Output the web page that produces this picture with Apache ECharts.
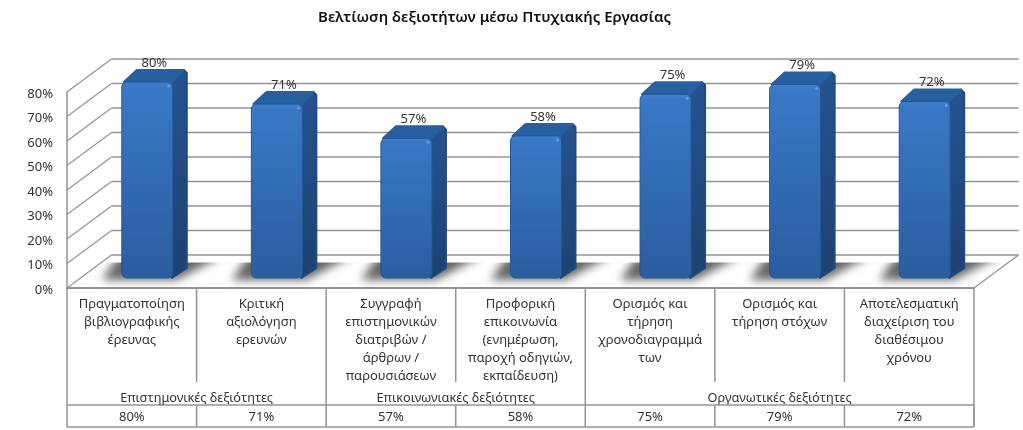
<!DOCTYPE html>
<html><head><meta charset="utf-8">
<style>html,body{margin:0;padding:0;background:#fff}#c{width:1023px;height:430px}</style>
<script src="https://cdn.jsdelivr.net/npm/echarts@6/dist/echarts.min.js"></script>
</head><body><div id="c"></div>
<script>
const titleText = 'Βελτίωση δεξιοτήτων μέσω Πτυχιακής Εργασίας';
const categories = [
 'Πραγματοποίηση\nβιβλιογραφικής\nέρευνας',
 'Κριτική\nαξιολόγηση\nερευνών',
 'Συγγραφή\nεπιστημονικών\nδιατριβών /\nάρθρων /\nπαρουσιάσεων',
 'Προφορική\nεπικοινωνία\n(ενημέρωση,\nπαροχή οδηγιών,\nεκπαίδευση)',
 'Ορισμός και\nτήρηση\nχρονοδιαγραμμά\nτων',
 'Ορισμός και\nτήρηση στόχων',
 'Αποτελεσματική\nδιαχείριση του\nδιαθέσιμου\nχρόνου'
];
const values = [80, 71, 57, 58, 75, 79, 72];
const ticks = [0, 10, 20, 30, 40, 50, 60, 70, 80];
const groupNames = ['Επιστημονικές δεξιότητες', 'Επικοινωνιακές δεξιότητες', 'Οργανωτικές δεξιότητες'];
const groupSpans = [2, 2, 3];

const FONT = '"Noto Sans"', TXT = '#333333', LINE = '#949494';
const DX = 44.5, DY = -33;           // wall depth
const BX = 15.5, BY = -10, BW = 51;  // bar offset in the floor, width
const SX = 14, SY = -12;             // bar depth
const TBL_GROUP = 382, TBL_SPLIT = 405, TBL_BOTTOM = 427;
const OFF = 3000;                    // draws only the blurred shadow of a shape

function lineShape(x1, y1, x2, y2, w, color) {
  return {type: 'line', shape: {x1, y1, x2, y2}, style: {stroke: color || LINE, lineWidth: w || 1.5}};
}
function wallItem(params, api) {
  const v = api.value(1), p = api.coord([0, v]), bw = api.size([1, 0])[0];
  const x0 = p[0] - bw / 2, xr = x0 + bw * categories.length;
  const kids = [
    lineShape(x0, p[1], x0 + DX, p[1] + DY, 1.2),
    lineShape(x0 + DX, p[1] + DY, xr + DX, p[1] + DY, 1.7)
  ];
  if (v === 0) kids.push(lineShape(xr, p[1], xr + DX, p[1] + DY, 1.2));
  return {type: 'group', children: kids};
}
function softShape(points, color, blur) {
  return {
    type: 'polygon',
    shape: {points: points.map(q => [q[0] - OFF, q[1]])},
    style: {fill: '#000', shadowColor: color, shadowBlur: blur, shadowOffsetX: OFF, shadowOffsetY: 0}
  };
}
function shadowItem(params, api) {
  const i = api.value(0);
  const b = api.coord([i, 0]);
  const cx = b[0] + BX, l = cx - BW / 2, r = cx + BW / 2, f = b[1] + BY;
  const shadow = softShape([[l - 20, f + 2], [r + 4, f + 2], [r + 56, f - 26], [l, f - 26]], 'rgba(100,100,100,1)', 10);
  const mask = {type: 'rect', shape: {x: l - 35, y: f - 40, width: BW + 110, height: 24.5}, style: {fill: '#fff'}};
  return {type: 'group', children: [shadow, mask]};
}
function barItem(params, api) {
  const i = api.value(0), v = api.value(1);
  const c = api.coord([i, v]), b = api.coord([i, 0]);
  const cx = c[0] + BX, l = cx - BW / 2, r = cx + BW / 2, t = c[1] + BY, f = b[1] + BY;
  const side = {
    type: 'polygon',
    shape: {points: [[r - 3, t], [r + SX - 3, t + SY], [r + SX, t + SY + 3], [r + SX, f + SY + 2], [r - 1, f]]},
    style: {fill: {type: 'linear', x: 0, y: 0, x2: 0, y2: 1, colorStops: [
      {offset: 0, color: '#255390'}, {offset: 1, color: '#1c4270'}]}, stroke: '#214a80', lineWidth: 2, lineJoin: 'round'}
  };
  const top = {
    type: 'polygon',
    shape: {points: [[l + 2, t], [l + SX + 1, t + SY], [r + SX - 3, t + SY], [r - 2, t + 1]]},
    style: {fill: '#28609f', stroke: '#28609f', lineWidth: 2, lineJoin: 'round'}
  };
  const front = {
    type: 'rect',
    shape: {x: l, y: t, width: BW, height: f - t, r: 5},
    style: {fill: {type: 'linear', x: 0, y: 0, x2: 0, y2: 1, colorStops: [
      {offset: 0, color: '#3d80d2'}, {offset: 0.03, color: '#3978c6'}, {offset: 1, color: '#2a5d9e'}]},
      stroke: '#255594', lineWidth: 1}
  };
  const glint = {type: 'circle', shape: {cx: r - 4, cy: t + 4, r: 1.5}, style: {fill: '#5f9ce0'}};
  const label = {
    type: 'text',
    style: {x: cx + 7, y: t + SY - 7, text: v + '%', fill: TXT, font: '13px ' + FONT, textAlign: 'center', textVerticalAlign: 'middle'}
  };
  return {type: 'group', children: [side, top, front, glint, label]};
}
function tableItem(params, api) {
  const i = api.value(0), v = api.value(1), last = categories.length - 1;
  const y0 = api.coord([0, 0])[1], cx = api.coord([i, 0])[0], bw = api.size([1, 0])[0];
  const xr = cx + bw / 2, xl = cx - bw / 2;
  const kids = [];
  let acc = 0;
  const isGroupEnd = groupSpans.some(s => { acc += s; return acc === i + 1; });
  kids.push(lineShape(xr, y0, xr, i === last ? TBL_BOTTOM : (isGroupEnd ? TBL_SPLIT : TBL_GROUP)));
  kids.push(lineShape(xr, TBL_SPLIT, xr, TBL_BOTTOM));
  if (i === 0) kids.push(lineShape(xl, y0, xl, TBL_BOTTOM));
  kids.push(lineShape(xl, TBL_SPLIT, xr, TBL_SPLIT));
  kids.push(lineShape(xl, TBL_BOTTOM, xr, TBL_BOTTOM));
  kids.push({type: 'text', style: {x: cx, y: 417, text: v + '%', fill: TXT, font: '13px ' + FONT, textAlign: 'center', textVerticalAlign: 'middle'}});
  acc = 0;
  groupSpans.forEach((s, g) => {
    if (i === acc) {
      kids.push({type: 'text', style: {x: xl + bw * s / 2, y: 398, text: groupNames[g], fill: TXT, font: '12.75px ' + FONT, textAlign: 'center', textVerticalAlign: 'middle'}});
    }
    acc += s;
  });
  return {type: 'group', children: kids};
}

const chart = echarts.init(document.getElementById('c'), null, {renderer: 'canvas'});
const pts = values.map((v, i) => [i, v]);
chart.setOption({
  animation: false,
  backgroundColor: '#fff',
  title: {
    text: titleText, left: 489.5, top: 5, textAlign: 'center',
    textStyle: {fontFamily: FONT, fontSize: 15, fontWeight: 600, color: '#111'}
  },
  grid: {left: 67, top: 92, width: 907, height: 196},
  xAxis: {
    type: 'category', data: categories,
    axisTick: {show: false},
    axisLine: {lineStyle: {color: LINE, width: 2}},
    axisLabel: {interval: 0, margin: 7, lineHeight: 18, fontFamily: FONT, fontSize: 13, color: TXT, align: 'center'}
  },
  yAxis: {
    type: 'value', min: 0, max: 80, interval: 10,
    splitLine: {show: false}, axisTick: {show: false},
    axisLine: {show: true, lineStyle: {color: LINE, width: 1.5}},
    axisLabel: {margin: 14, verticalAlign: 'top', lineHeight: 4, fontFamily: FONT, fontSize: 13, color: TXT, formatter: '{value}%'}
  },
  series: [
    {type: 'custom', silent: true, z: 1, renderItem: shadowItem, data: pts, encode: {x: 0, y: 1}},
    {type: 'custom', silent: true, z: 2, renderItem: wallItem, data: ticks.map(t => [0, t]), encode: {x: 0, y: 1}},
    {type: 'custom', silent: true, z: 3, renderItem: barItem, data: pts, encode: {x: 0, y: 1}},
    {type: 'custom', silent: true, z: 3, renderItem: tableItem, data: pts, encode: {x: 0, y: 1}}
  ]
});
</script></body></html>
